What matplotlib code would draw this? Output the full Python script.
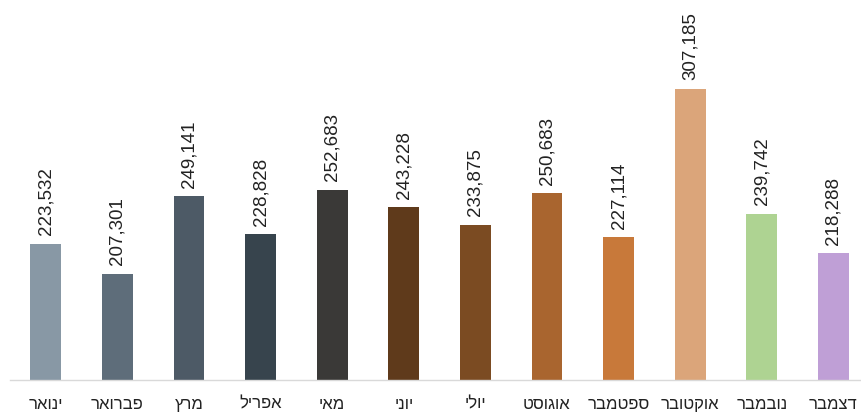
import matplotlib
matplotlib.use("Agg")
import matplotlib.pyplot as plt

# monthly values (Jan..Dec)
months = ['ינואר', 'פברואר', 'מרץ', 'אפריל', 'מאי', 'יוני',
          'יולי', 'אוגוסט', 'ספטמבר', 'אוקטובר', 'נובמבר', 'דצמבר']
values = [223532, 207301, 249141, 228828, 252683, 243228,
          233875, 250683, 227114, 307185, 239742, 218288]
colors = ['#8898a5', '#5e6d7a', '#4d5a66', '#37444d', '#3a3937', '#5f3a1b',
          '#7b4b22', '#a9652f', '#c8793a', '#dba57a', '#aed392', '#bf9fd6']

plt.rcParams['font.family'] = ['Liberation Sans', 'DejaVu Sans']

fig = plt.figure(figsize=(8.62, 4.15), dpi=100)
ax = fig.add_axes([10 / 862, 35 / 415, 852 / 862, 380 / 415])

x = list(range(len(values)))
bars = ax.bar(x, values, width=0.43, color=colors, zorder=2)

for xi, v in zip(x, values):
    ax.annotate(f'{v:,}', (xi, v), xytext=(0, 6), textcoords='offset points',
                rotation=90, ha='center', va='bottom', fontsize=13.5, color='#222222')

ax.set_xlim(-0.5, 11.4)
ax.set_ylim(150000, 355000)
ax.set_xticks(x)
# matplotlib has no bidi support, so Hebrew is reversed for display
ax.set_xticklabels([m[::-1] for m in months], fontsize=12, color='#222222')
ax.tick_params(axis='x', length=0, pad=12)
ax.set_yticks([])
for s in ['top', 'right', 'left']:
    ax.spines[s].set_visible(False)
ax.spines['bottom'].set_color('#d9d9d9')
ax.spines['bottom'].set_linewidth(1)

fig.savefig('out.png', dpi=100, facecolor='white')
